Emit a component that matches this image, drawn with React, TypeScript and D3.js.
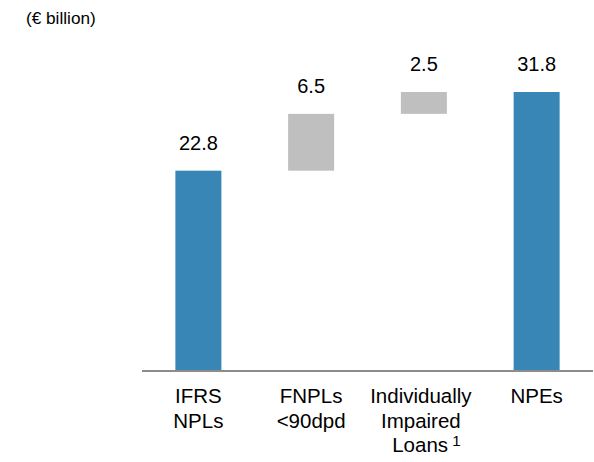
import React from "react";
import * as d3 from "d3";

const categories = ["IFRS NPLs", "FNPLs <90dpd", "Individually Impaired Loans", "NPEs"];
const labelLines: string[][] = [["IFRS", "NPLs"], ["FNPLs", "<90dpd"], ["Individually", "Impaired", "Loans"], ["NPEs"]];
const values = [22.8, 6.5, 2.5, 31.8];
const kinds = ["total", "delta", "delta", "total"];
const valueLabels = ["22.8", "6.5", "2.5", "31.8"];

const W = 594;
const H = 462;

export default function App() {
  const x = d3.scaleBand<string>().domain(categories).range([142, 593]).paddingInner(0.592).paddingOuter(0.296);
  const y = d3.scaleLinear().domain([0, 31.8]).range([370, 92]);

  let running = 0;
  const bars = values.map((v, i) => {
    let y0: number, y1: number;
    if (kinds[i] === "total") {
      y0 = 0;
      y1 = v;
      running = v;
    } else {
      y0 = running;
      y1 = running + v;
      running = y1;
    }
    return { cat: categories[i], y0, y1, kind: kinds[i], label: valueLabels[i] };
  });

  const font = "Liberation Sans, Arial, sans-serif";

  return (
    <svg width={W} height={H} style={{ position: "absolute", left: 0, top: 0 }}>
      <text x={26} y={24} fontFamily={font} fontSize={17.2} fill="#000">(€ billion)</text>
      {bars.map((b, i) => {
        const bx = x(b.cat)!;
        const bw = x.bandwidth();
        const top = y(b.y1);
        const bottom = y(b.y0);
        return (
          <g key={i}>
            <rect x={bx} y={top} width={bw} height={bottom - top} fill={b.kind === "total" ? "#3886B5" : "#BFBFBF"} />
            <text x={bx + bw / 2} y={top - 21} textAnchor="middle" fontFamily={font} fontSize={20} fill="#000">{b.label}</text>
          </g>
        );
      })}
      <line x1={142} x2={593} y1={371} y2={371} stroke="#8C8C8C" strokeWidth={2} />
      {categories.map((c, i) => {
        const cx = x(c)! + x.bandwidth() / 2 + (i === 2 ? -3 : 0);
        return (
          <text key={c} textAnchor="middle" fontFamily={font} fontSize={20.5} fill="#000">
            {labelLines[i].map((ln, j) => (
              <tspan key={j} x={cx + (i === 2 && j === 2 ? 5.5 : 0)} y={403 + j * 24.5}>
                {ln}
                {i === 2 && j === 2 ? <tspan fontSize={15} dy={-6.5}>{" 1"}</tspan> : null}
              </tspan>
            ))}
          </text>
        );
      })}
    </svg>
  );
}
